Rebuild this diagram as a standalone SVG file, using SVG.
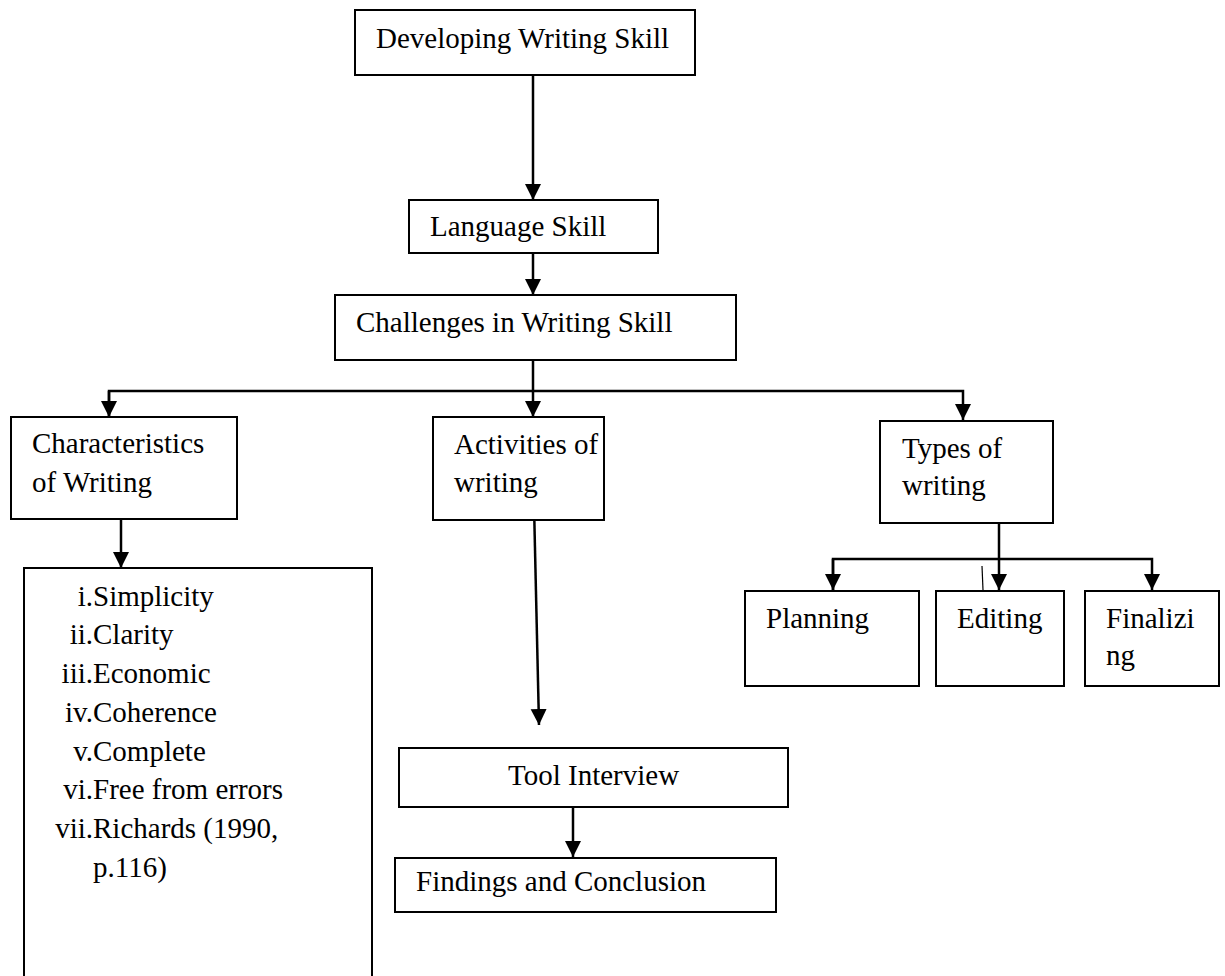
<svg xmlns="http://www.w3.org/2000/svg" width="1225" height="976" viewBox="0 0 1225 976">
<style>
.box{fill:#fff;stroke:#000;stroke-width:2}
.t{font-family:"Liberation Serif","Times New Roman",serif;font-size:29px;fill:#000}
.c{fill:none;stroke:#000;stroke-width:2.5}
</style>
<defs>
<marker id="ah" markerUnits="userSpaceOnUse" markerWidth="17" markerHeight="17" refX="16" refY="8" orient="auto">
<path d="M0,0 L16,8 L0,16 z" fill="#000"/>
</marker>
</defs>
<rect width="1225" height="976" fill="#fff"/>
<g id="connectors">
<line class="c" x1="533" y1="75" x2="533" y2="200" marker-end="url(#ah)"/>
<line class="c" x1="533" y1="253" x2="533" y2="295" marker-end="url(#ah)"/>
<line class="c" x1="533" y1="360" x2="533" y2="417" marker-end="url(#ah)"/>
<polyline class="c" points="109,417 109,391 963,391 963,420" marker-end="url(#ah)"/>
<line class="c" x1="109" y1="391" x2="109" y2="417" marker-end="url(#ah)"/>
<line class="c" x1="121" y1="519" x2="121" y2="568" marker-end="url(#ah)"/>
<line class="c" x1="534" y1="505" x2="539" y2="725" marker-end="url(#ah)"/>
<line class="c" x1="573" y1="807" x2="573" y2="857" marker-end="url(#ah)"/>
<line class="c" x1="999" y1="523" x2="999" y2="590" marker-end="url(#ah)"/>
<polyline class="c" points="833,590 833,559 1152,559 1152,590" marker-end="url(#ah)"/>
<line class="c" x1="833" y1="559" x2="833" y2="590" marker-end="url(#ah)"/>
<line stroke="#000" stroke-width="1.2" x1="982" y1="566" x2="983" y2="590"/>
</g>
<g id="developing">
<rect class="box" x="355" y="10" width="340" height="65"/>
<text class="t" x="376" y="48">Developing Writing Skill</text>
</g>
<g id="language">
<rect class="box" x="409" y="200" width="249" height="53"/>
<text class="t" x="430" y="236">Language Skill</text>
</g>
<g id="challenges">
<rect class="box" x="335" y="295" width="401" height="65"/>
<text class="t" x="356" y="332">Challenges in Writing Skill</text>
</g>
<g id="characteristics">
<rect class="box" x="11" y="417" width="226" height="102"/>
<text class="t" x="32" y="453">Characteristics</text>
<text class="t" x="32" y="492">of Writing</text>
</g>
<g id="list">
<rect class="box" x="24" y="568" width="348" height="420"/>
<g class="t">
<text x="93" y="606" text-anchor="end">i.</text><text x="93" y="606">Simplicity</text>
<text x="93" y="644" text-anchor="end">ii.</text><text x="93" y="644">Clarity</text>
<text x="93" y="683" text-anchor="end">iii.</text><text x="93" y="683">Economic</text>
<text x="93" y="722" text-anchor="end">iv.</text><text x="93" y="722">Coherence</text>
<text x="93" y="761" text-anchor="end">v.</text><text x="93" y="761">Complete</text>
<text x="93" y="799" text-anchor="end">vi.</text><text x="93" y="799">Free from errors</text>
<text x="93" y="838" text-anchor="end">vii.</text><text x="93" y="838">Richards (1990,</text>
<text x="93" y="877">p.116)</text>
</g>
</g>
<g id="activities">
<rect class="box" x="433" y="417" width="171" height="103"/>
<text class="t" x="454" y="454">Activities of</text>
<text class="t" x="454" y="492">writing</text>
</g>
<g id="types">
<rect class="box" x="880" y="421" width="173" height="102"/>
<text class="t" x="902" y="458">Types of</text>
<text class="t" x="902" y="495">writing</text>
</g>
<g id="planning">
<rect class="box" x="745" y="591" width="174" height="95"/>
<text class="t" x="766" y="628">Planning</text>
</g>
<g id="editing">
<rect class="box" x="936" y="591" width="128" height="95"/>
<text class="t" x="957" y="628">Editing</text>
</g>
<g id="finalizing">
<rect class="box" x="1085" y="591" width="134" height="95"/>
<text class="t" x="1106" y="628">Finalizi</text>
<text class="t" x="1106" y="665">ng</text>
</g>
<g id="tool">
<rect class="box" x="399" y="748" width="389" height="59"/>
<text class="t" x="508" y="785">Tool Interview</text>
</g>
<g id="findings">
<rect class="box" x="395" y="858" width="381" height="54"/>
<text class="t" x="416" y="891">Findings and Conclusion</text>
</g>
</svg>
